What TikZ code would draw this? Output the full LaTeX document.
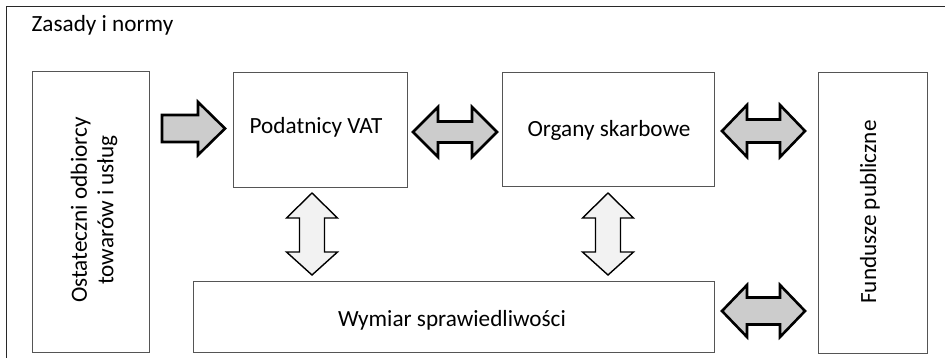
\documentclass[tikz,border=0pt]{standalone}
\usepackage{fontspec}
\setmainfont{Carlito}
\definecolor{boxline}{RGB}{85,85,85}
\definecolor{darkfill}{RGB}{204,204,204}
\definecolor{lightfill}{RGB}{242,242,242}
\newcommand\HDArrow[7]{% left tip, left base, right base, right tip, cy, head half, shaft half
  \filldraw[bigarrow] (#1,#5) -- (#2,{#5-#6}) -- (#2,{#5-#7}) -- (#3,{#5-#7}) -- (#3,{#5-#6})
    -- (#4,#5) -- (#3,{#5+#6}) -- (#3,{#5+#7}) -- (#2,{#5+#7}) -- (#2,{#5+#6}) -- cycle;}
\newcommand\VDArrow[7]{% top tip, top base, bottom base, bottom tip, cx, head half, shaft half
  \filldraw[smallarrow] (#5,#1) -- ({#5+#6},#2) -- ({#5+#7},#2) -- ({#5+#7},#3) -- ({#5+#6},#3)
    -- (#5,#4) -- ({#5-#6},#3) -- ({#5-#7},#3) -- ({#5-#7},#2) -- ({#5-#6},#2) -- cycle;}
\begin{document}
\begin{tikzpicture}[x=1pt,y=-1pt,
  txt/.style={inner sep=0pt, font=\fontsize{23.2}{26.5}\selectfont},
  box/.style={draw=boxline, line width=1pt, fill=white, inner sep=0pt},
  bigarrow/.style={draw=black, fill=darkfill, line width=2.6pt, line join=miter},
  smallarrow/.style={draw=black, fill=lightfill, line width=1.4pt, line join=miter}]
\clip (0,0) rectangle (945,357);
\useasboundingbox (0,0) rectangle (945,357);
% outer frame
\draw[line width=1pt, draw={rgb,255:red,40;green,40;blue,40}] (6,6) rectangle (960,370);
\node[txt, anchor=west] (title) at (31.5,25) {Zasady i normy};
% boxes
\node[box, minimum width=117pt, minimum height=281pt] (ost) at (90.5,211.5) {};
\node[txt, rotate=90, align=center] (ostt) at (94,210) {Ostateczni odbiorcy\\towarów i usług};
\node[box, minimum width=174pt, minimum height=115pt] (pod) at (320,129.5) {};
\node[txt] (podt) at (316,127) {Podatnicy VAT};
\node[box, minimum width=212pt, minimum height=114pt] (org) at (608,129) {};
\node[txt] (orgt) at (609,130) {Organy skarbowe};
\node[box, minimum width=109pt, minimum height=281pt] (fun) at (872.5,212.5) {};
\node[txt, rotate=90] (funt) at (870,212) {Fundusze publiczne};
\node[box, minimum width=521pt, minimum height=71pt] (wym) at (453.5,316.5) {};
\node[txt] (wymt) at (452,320) {Wymiar sprawiedliwości};
% single arrow
\filldraw[bigarrow] (162,115) -- (198,115) -- (198,102) -- (225,128.5) -- (198,155) -- (198,142) -- (162,142) -- cycle;
% double horizontal arrows
\HDArrow{413}{438}{472}{497}{132}{25}{10.5}
\HDArrow{722}{747}{780}{805}{131}{26}{11.5}
\HDArrow{722}{747}{780}{805}{311}{26}{13.5}
% vertical double arrows
\VDArrow{193}{218}{252}{275}{312}{25.5}{12.5}
\VDArrow{193}{218}{252}{275}{608}{25.5}{12.5}
\end{tikzpicture}
\end{document}
